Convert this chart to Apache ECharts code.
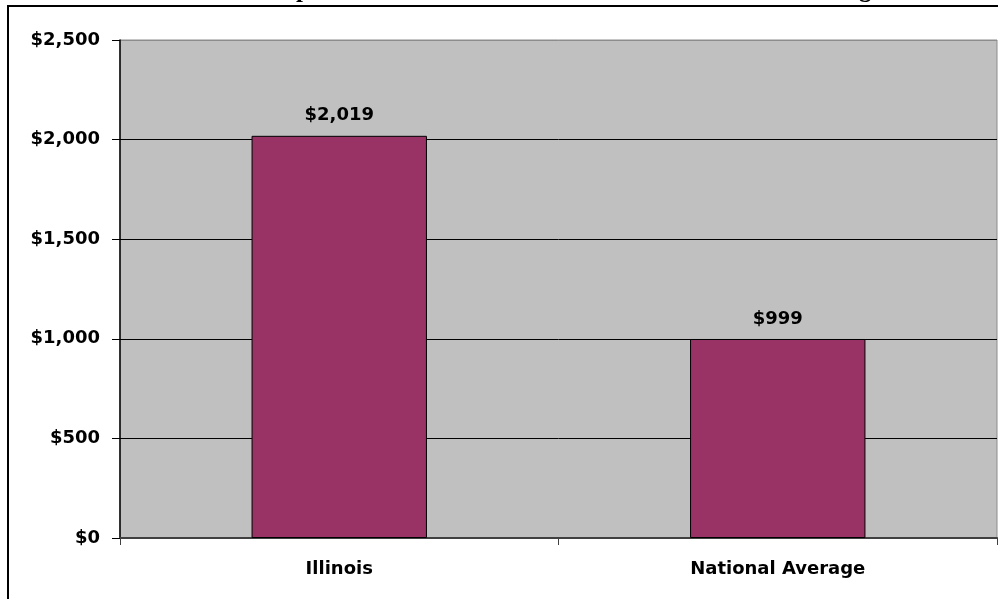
<!DOCTYPE html>
<html>
<head>
<meta charset="utf-8">
<script src="https://cdn.jsdelivr.net/npm/echarts@6/dist/echarts.min.js"></script>
<style>
  html, body { margin: 0; padding: 0; background: #ffffff; }
  #chart { width: 1003px; height: 599px; }
</style>
</head>
<body>
<div id="chart"></div>
<script>
// Per-capita comparison: Illinois vs. the national average
const categories = ['Illinois', 'National Average'];
const values = [2019, 999];
const yTicks = [0, 500, 1000, 1500, 2000, 2500];
const titleText = 'Illinois\u2019 Per Capita Burden Is More than Double the National Average';

const money = v => '$' + Math.round(v).toLocaleString('en-US');
const labelFont = 'DejaVu Sans, Liberation Sans, Arial, sans-serif';

const chart = echarts.init(document.getElementById('chart'), null, { renderer: 'canvas' });

chart.setOption({
  animation: false,
  backgroundColor: '#ffffff',
  graphic: [
    // heading, running off the top edge of the page
    {
      type: 'text',
      x: 508,
      y: -22,
      style: {
        text: titleText,
        font: 'bold 25px "Liberation Serif", "Times New Roman", serif',
        fill: '#000000',
        align: 'center',
        verticalAlign: 'top'
      },
      z: 1
    },
    // outer frame: top and left edges
    { type: 'rect', shape: { x: 7, y: 5, width: 991, height: 2 }, style: { fill: '#000000' }, z: 2 },
    { type: 'rect', shape: { x: 7, y: 5, width: 2, height: 600 }, style: { fill: '#000000' }, z: 2 }
  ],
  grid: {
    left: 120,
    right: 6,
    top: 40,
    bottom: 61,
    show: true,
    backgroundColor: '#C0C0C0',
    borderColor: '#8c8c8c',
    borderWidth: 1
  },
  xAxis: {
    type: 'category',
    data: categories,
    axisLine: { show: true, lineStyle: { color: '#404040', width: 2 } },
    axisTick: { show: true, length: 7, lineStyle: { color: '#404040', width: 1 } },
    axisLabel: {
      color: '#000000',
      fontFamily: labelFont,
      fontWeight: 'bold',
      fontSize: 18,
      margin: 22
    },
    splitLine: { show: false }
  },
  yAxis: {
    type: 'value',
    min: yTicks[0],
    max: yTicks[yTicks.length - 1],
    interval: yTicks[1] - yTicks[0],
    axisLine: { show: true, lineStyle: { color: '#000000', width: 1.5 } },
    axisTick: { show: true, length: 8, lineStyle: { color: '#000000', width: 1 } },
    axisLabel: {
      color: '#000000',
      fontFamily: labelFont,
      fontWeight: 'bold',
      fontSize: 18,
      margin: 20,
      formatter: money
    },
    splitLine: {
      show: true,
      lineStyle: { color: ['#000000', '#000000', '#000000', '#000000', '#000000', '#8c8c8c'], width: 1 }
    }
  },
  series: [
    {
      type: 'bar',
      data: values,
      barWidth: '40%',
      itemStyle: { color: '#993366', borderColor: '#000000', borderWidth: 1 },
      label: {
        show: true,
        position: 'top',
        distance: 11,
        color: '#000000',
        fontFamily: labelFont,
        fontWeight: 'bold',
        fontSize: 18,
        formatter: p => money(p.value)
      }
    }
  ]
});
</script>
</body>
</html>
